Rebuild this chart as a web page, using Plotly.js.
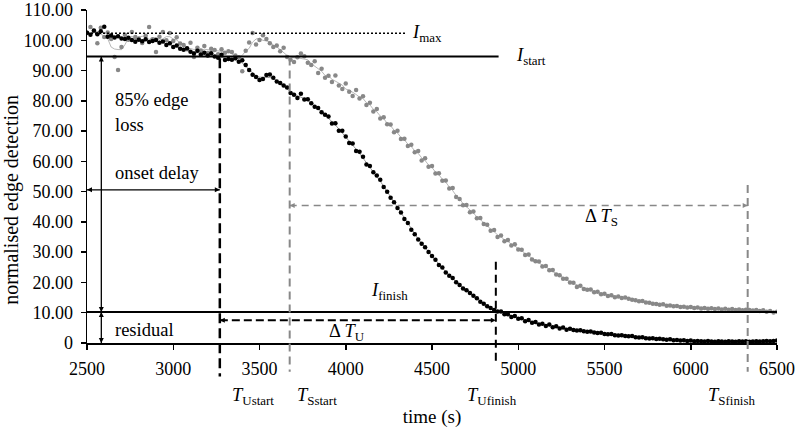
<!DOCTYPE html>
<html><head><meta charset="utf-8">
<script src="https://cdn.plot.ly/plotly-3.0.1.min.js"></script>
<style>html,body{margin:0;padding:0;background:#fff}#chart{width:797px;height:432px}</style>
</head><body><div id="chart"></div>
<script>
// time (s)
const TIME = [
2500,2520,2540,2560,2580,2600,2620,2640,2660,2680,2700,2720,2740,2760,2780,2800,2820,2840,2860,2880,
2900,2920,2940,2960,2980,3000,3020,3040,3060,3080,3100,3120,3140,3160,3180,3200,3220,3240,3260,3280,
3300,3320,3340,3360,3380,3400,3420,3440,3460,3480,3500,3520,3540,3560,3580,3600,3620,3640,3660,3680,
3700,3720,3740,3760,3780,3800,3820,3840,3860,3880,3900,3920,3940,3960,3980,4000,4020,4040,4060,4080,
4100,4120,4140,4160,4180,4200,4220,4240,4260,4280,4300,4320,4340,4360,4380,4400,4420,4440,4460,4480,
4500,4520,4540,4560,4580,4600,4620,4640,4660,4680,4700,4720,4740,4760,4780,4800,4820,4840,4860,4880,
4900,4920,4940,4960,4980,5000,5020,5040,5060,5080,5100,5120,5140,5160,5180,5200,5220,5240,5260,5280,
5300,5320,5340,5360,5380,5400,5420,5440,5460,5480,5500,5520,5540,5560,5580,5600,5620,5640,5660,5680,
5700,5720,5740,5760,5780,5800,5820,5840,5860,5880,5900,5920,5940,5960,5980,6000,6020,6040,6060,6080,
6100,6120,6140,6160,6180,6200,6220,6240,6260,6280,6300,6320,6340,6360,6380,6400,6420,6440,6460,6480,
6500];
// black series (U)
const U_VALUES = [
102.5,101.8,103.2,102.0,103.0, 104.5,101.2,101.6,100.9,101.3, 100.6,100.4,100.8,100.1,99.5, 100.2,99.7,100.3,99.4,99.8,
100.1,99.2,99.6,98.4,99.0, 97.8,98.3,97.2,96.9,97.4, 96.2,95.6,96.5,95.3,95.9, 95.0,95.7,94.6,94.2,95.2,
93.5,93.8,93.6,94.1,92.9, 93.4,91.8,90.2,88.6,87.9, 86.9,87.2,88.5,88.7,87.6, 86.4,85.9,85.1,84.4,82.6,
82.0,80.9,82.3,80.4,80.5, 79.2,78.0,77.6,76.2,75.4, 74.8,72.5,72.6,70.1,70.1, 68.2,66.1,65.9,63.4,63.2,
61.5,59.0,58.5,56.4,55.3, 53.9,51.5,50.0,48.0,46.5, 44.6,43.1,41.0,39.6,37.4, 35.9,34.2,32.8,31.6,30.1,
28.7,27.5,25.8,24.9,23.3, 22.2,21.5,20.1,19.2,18.0, 17.4,16.5,15.6,14.8,13.6, 13.0,12.1,11.6,10.9,10.4,
10.4,9.5,9.5,8.6,8.9, 8.0,8.2,7.2,7.6,6.7, 6.9,6.1,6.4,5.6,6.1, 5.2,5.5,4.8,5.1,4.4,
4.7,4.3,4.1,4.2,3.9, 3.7,3.8,3.5,3.3,3.4, 3.0,2.9,3.0,2.6,2.5, 2.6,2.3,2.2,2.3,1.9,
1.8,1.9,1.6,1.5,1.6, 1.3,1.4,1.2,1.1,1.2, 0.9,1.0,0.8,0.9,0.7, 0.8,0.6,0.7,0.6,0.5,
0.7,0.5,0.4,0.6,0.5, 0.4,0.6,0.5,0.4,0.6, 0.5,0.6,0.4,0.5,0.6, 0.5,0.6,0.7,0.6,0.7,
0.8];
// grey series (S)
const S_VALUES = [
102.4,104.4,103.1,99.0,104.1, 101.1,102.6,100.4,94.5,90.2, 97.8,101.8,100.2,102.7,101.1, 100.6,99.1,101.5,104.4,100.3,
96.1,101.2,102.7,100.0,102.4, 99.8,101.0,98.9,98.4,97.0, 99.2,94.5,97.5,96.6,98.1, 95.8,97.2,96.8,95.4,97.0,
95.9,96.4,96.1,95.0,94.4, 89.8,96.5,99.3,102.4,98.6, 100.1,101.7,100.4,99.0,97.8, 98.3,96.4,97.5,94.5,93.6,
92.8,94.4,95.6,94.7,92.6, 91.8,93.1,89.2,90.6,87.6, 88.3,86.2,88.4,85.1,83.9, 85.7,83.0,81.6,83.6,80.8,
81.5,78.6,79.4,76.5,77.3, 74.2,74.6,72.3,72.2,69.6, 70.1,67.4,67.5,65.1,65.5, 63.0,63.4,60.3,61.0,58.2,
58.5,56.0,56.1,53.6,53.7, 51.0,51.2,48.2,47.6,45.5, 45.6,43.2,43.4,41.2,41.3, 39.3,39.1,37.1,37.3,35.0,
35.5,33.6,34.0,32.2,32.6, 30.9,30.8,29.1,29.2,27.6, 27.0,26.9,25.3,25.4,24.0, 24.1,22.6,22.4,21.2,21.2,
20.0,19.9,18.5,18.9,17.8, 17.6,17.7,16.8,16.9,16.1, 16.3,15.5,15.8,15.1,15.4, 14.9,15.0,14.6,14.3,14.1,
13.8,13.9,13.4,13.3,13.0, 12.9,12.6,12.8,12.3,12.4, 12.1,12.2,11.9,12.0,11.7, 11.9,11.6,11.7,11.4,11.6,
11.3,11.5,11.2,11.4,11.1, 11.3,11.0,11.2,10.9,11.1, 10.8,11.0,10.9,10.7,10.9, 10.6,10.8,10.3,10.6,10.1,
10.3];

const X_TICKS = [2500,3000,3500,4000,4500,5000,5500,6000,6500];
const Y_TICKS = [0,10,20,30,40,50,60,70,80,90,100,110];
const Y_TICK_LABELS = ['0','10.00','20.00','30.00','40.00','50.00','60.00','70.00','80.00','90.00','100.00','110.00'];

// reference levels / times
const I_MAX = 102.3, I_START = 94.6, I_FINISH = 10.2;
const T_USTART = 3270, T_SSTART = 3675, T_UFINISH = 4870, T_SFINISH = 6330;
const ONSET_Y = 50.6, DTU_Y = 7.5, DTS_Y = 45.4, LOSS_X = 2583;
const IMAX_END = 4346, ISTART_END = 4886;

const FONT = 'Liberation Serif, serif';
const BLACK = '#000000', GREY = '#888888';
const Y_MAX = 110;

function movingAverage(arr, half) {
  return arr.map((v, i) => {
    let s = 0, n = 0;
    for (let k = Math.max(0, i - half); k <= Math.min(arr.length - 1, i + half); k++) { s += arr[k]; n++; }
    return s / n;
  });
}

// arrowheads (tip sits on the data point)
const HEADS_BLACK = {
  x: [LOSS_X, LOSS_X, LOSS_X, LOSS_X, 2500, T_USTART, T_USTART, T_UFINISH],
  y: [I_START, I_FINISH, I_FINISH, 0, ONSET_Y, ONSET_Y, DTU_Y, DTU_Y],
  s: ['arrow-up', 'arrow-down', 'arrow-up', 'arrow-down', 'arrow-left', 'arrow-right', 'arrow-left', 'arrow-right']
};
const HEADS_GREY = {x: [T_SSTART, T_SFINISH], y: [DTS_Y, DTS_Y], s: ['arrow-left', 'arrow-right']};

const traces = [
  {x: TIME, y: movingAverage(S_VALUES, 2), mode: 'lines', line: {color: '#b8b8b8', width: 1}, hoverinfo: 'skip'},
  {x: TIME, y: movingAverage(U_VALUES, 2), mode: 'lines', line: {color: '#9a9a9a', width: 1}, hoverinfo: 'skip'},
  {x: TIME, y: S_VALUES, mode: 'markers', marker: {color: GREY, size: 4.5}, name: 'S'},
  {x: TIME, y: U_VALUES, mode: 'markers', marker: {color: BLACK, size: 4.5}, name: 'U'},
  {x: HEADS_BLACK.x, y: HEADS_BLACK.y, mode: 'markers', cliponaxis: false, hoverinfo: 'skip',
   marker: {symbol: HEADS_BLACK.s, size: 5, color: BLACK, line: {width: 0}}},
  {x: HEADS_GREY.x, y: HEADS_GREY.y, mode: 'markers', cliponaxis: false, hoverinfo: 'skip',
   marker: {symbol: HEADS_GREY.s, size: 5, color: GREY, line: {width: 0}}}
];

function hline(y, x0, x1, color, width, dash) {
  return {type: 'line', xref: 'x', yref: 'y', x0: x0, x1: x1, y0: y, y1: y, line: {color: color, width: width, dash: dash || 'solid'}};
}
function vseg(x, y0, y1, color, width, dash) {
  return {type: 'line', xref: 'x', yref: 'y', x0: x, x1: x, y0: y0, y1: y1, line: {color: color, width: width, dash: dash || 'solid'}};
}
function vline(x, y0, y1, color, width, dash) {
  // y in data units converted to paper fraction so the line can run below the axis
  return {type: 'line', xref: 'x', yref: 'paper', x0: x, x1: x, y0: y0 / Y_MAX, y1: y1 / Y_MAX, line: {color: color, width: width, dash: dash}};
}

const shapes = [
  hline(I_MAX, 2500, IMAX_END, BLACK, 1.5, '2px,2px'),
  hline(I_START, 2500, ISTART_END, BLACK, 2, 'solid'),
  hline(I_FINISH, 2500, 6500, BLACK, 2, 'solid'),
  hline(DTU_Y, T_USTART, T_UFINISH, BLACK, 2, '8px,4px'),
  hline(DTS_Y, T_SSTART, T_SFINISH, GREY, 1.5, '7px,5px'),
  hline(ONSET_Y, 2500, T_USTART, BLACK, 1.3, 'solid'),
  vseg(LOSS_X, I_START, I_FINISH, BLACK, 1.3, 'solid'),
  vseg(LOSS_X, I_FINISH, 0, BLACK, 1.3, 'solid'),
  vline(T_USTART, I_START - 0.5, -11.1, BLACK, 2.5, '10px,5px'),
  vline(T_SSTART, I_START - 0.3, -9.5, GREY, 2, '8px,5px'),
  vline(T_UFINISH, 26.8, -7.5, BLACK, 2, '8px,5px'),
  vline(T_SFINISH, 52.2, -9.5, GREY, 2, '8px,5px')
];

function label(text, x, y, yref, size) {
  return {text: text, x: x, y: y, xref: 'x', yref: yref || 'y', xanchor: 'left', yanchor: 'middle',
          showarrow: false, font: {family: FONT, size: size || 18.5, color: BLACK}};
}

const annotations = [
  label('<i>I</i><sub>max</sub>', 4375, I_MAX),
  label('<i>I</i><sub>start</sub>', 4973, I_START),
  label('<i>I</i><sub>finish</sub>', 4132, 16.9),
  label('Δ <i>T</i><sub>U</sub>', 3894, 3.4),
  label('Δ <i>T</i><sub>S</sub>', 5373, 41.3),
  label('85% edge', 2653, 80.3),
  label('loss', 2653, 72.0),
  label('onset delay', 2653, 56.2),
  label('residual', 2653, 4.4),
  label('<i>T</i><sub>Ustart</sub>', 3331, -0.161, 'paper'),
  label('<i>T</i><sub>Sstart</sub>', 3708, -0.161, 'paper'),
  label('<i>T</i><sub>Ufinish</sub>', 4694, -0.161, 'paper'),
  label('<i>T</i><sub>Sfinish</sub>', 6086, -0.161, 'paper'),
  {text: 'normalised edge detection', xref: 'paper', yref: 'paper', x: -0.1087, y: 0.43, textangle: -90,
   showarrow: false, xanchor: 'center', yanchor: 'middle', font: {family: FONT, size: 20, color: BLACK}}
];

const layout = {
  width: 797, height: 432,
  margin: {l: 87, r: 20, t: 10, b: 89},
  paper_bgcolor: '#ffffff', plot_bgcolor: '#ffffff',
  showlegend: false,
  font: {family: FONT, color: BLACK},
  xaxis: {
    range: [2500, 6500], tickvals: X_TICKS, tickformat: 'd',
    showline: true, linecolor: BLACK, linewidth: 1.5, showgrid: false, zeroline: false,
    ticks: 'outside', ticklen: 5, tickwidth: 1.5, tickcolor: BLACK, ticklabelstandoff: 4,
    tickfont: {family: FONT, size: 18, color: BLACK},
    title: {text: 'time (s)', font: {family: FONT, size: 19, color: BLACK}, standoff: 31}
  },
  yaxis: {
    range: [0, 110], tickvals: Y_TICKS, ticktext: Y_TICK_LABELS,
    showline: true, linecolor: BLACK, linewidth: 1.5, showgrid: false, zeroline: false,
    ticks: 'outside', ticklen: 5, tickwidth: 1.5, tickcolor: BLACK, ticklabelstandoff: 4,
    tickfont: {family: FONT, size: 18, color: BLACK}
  },
  shapes: shapes,
  annotations: annotations
};

Plotly.newPlot('chart', traces, layout, {displayModeBar: false, staticPlot: true});
</script>
</body></html>
